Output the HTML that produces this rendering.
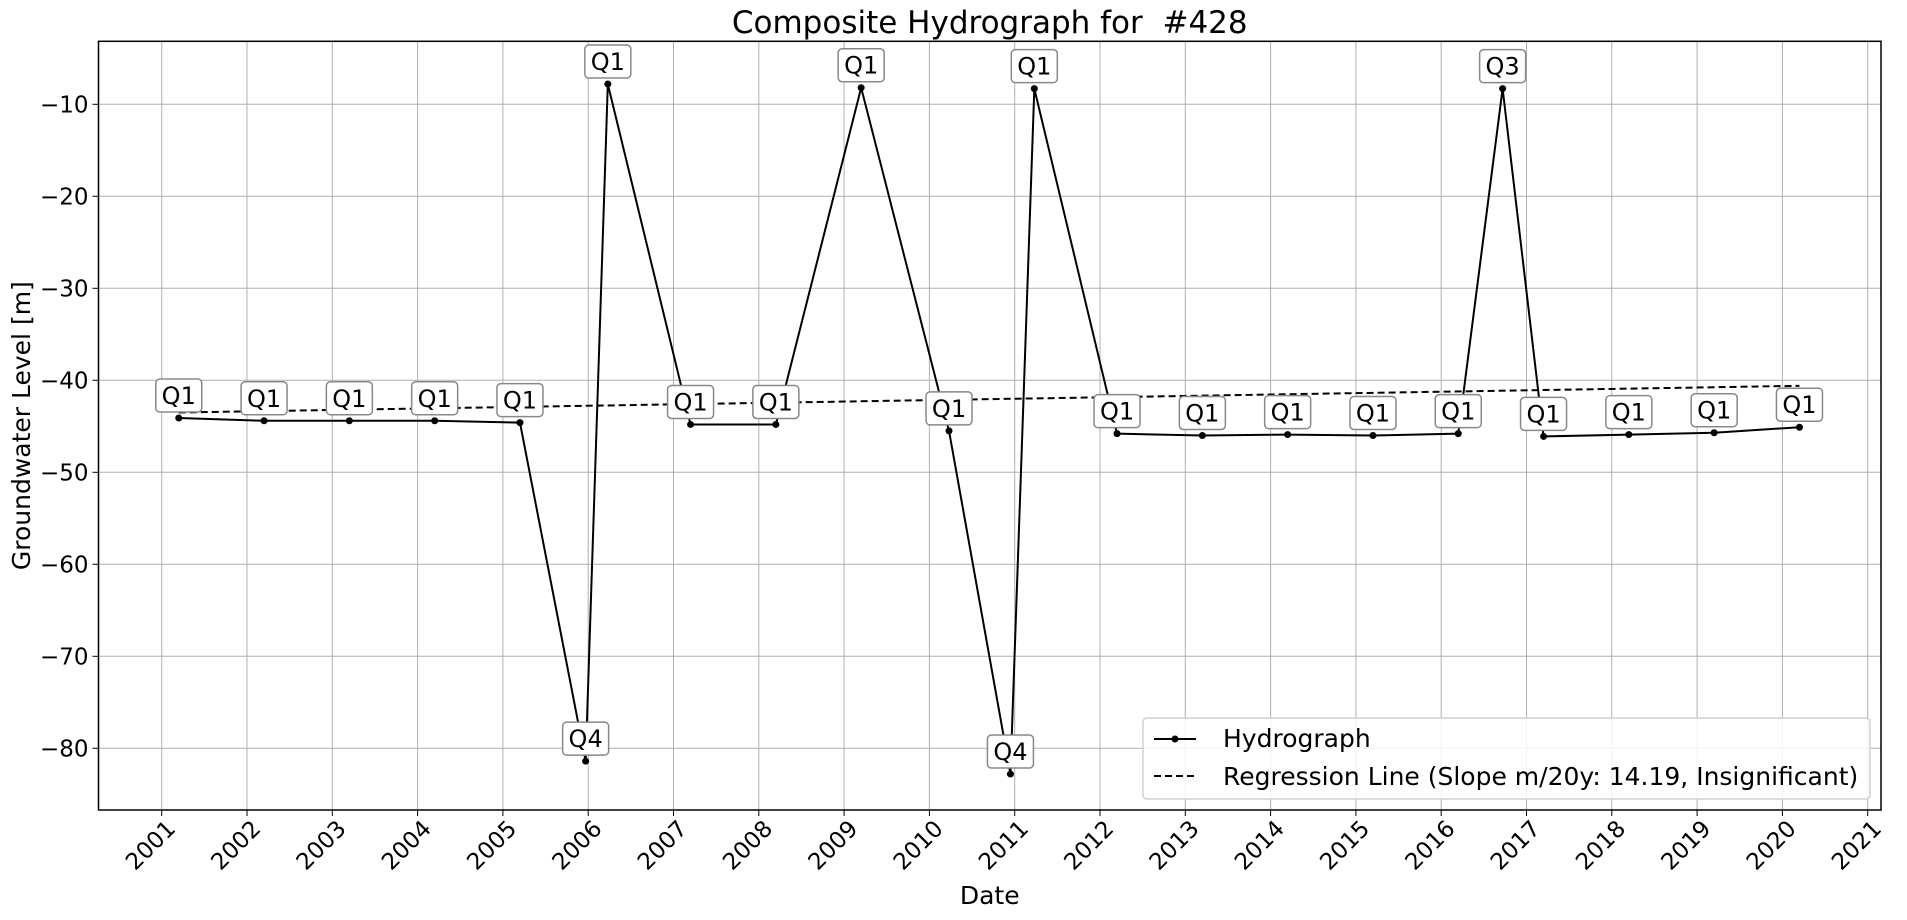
<!DOCTYPE html>
<html><head><meta charset="utf-8"><style>body{margin:0;background:#fff}svg{display:block;font-family:"DejaVu Sans","Liberation Sans",sans-serif}</style></head>
<body>
<svg id="chart" width="1907" height="920"></svg>
<script>
const dates=[2001.2,2002.2,2003.2,2004.2,2005.2,2005.97,2006.23,2007.2,2008.2,2009.2,2010.23,2010.95,2011.23,2012.2,2013.2,2014.2,2015.2,2016.2,2016.72,2017.2,2018.2,2019.2,2020.2];
const levels=[-44.1,-44.4,-44.4,-44.4,-44.6,-81.4,-7.8,-44.8,-44.8,-8.2,-45.5,-82.8,-8.3,-45.8,-46.0,-45.9,-46.0,-45.8,-8.3,-46.1,-45.9,-45.7,-45.1];
const quarters=["Q1","Q1","Q1","Q1","Q1","Q4","Q1","Q1","Q1","Q1","Q1","Q4","Q1","Q1","Q1","Q1","Q1","Q1","Q3","Q1","Q1","Q1","Q1"];
const regX=[2001.2,2020.2];
const regY=[-43.5,-40.6];
const yTicks=[-10,-20,-30,-40,-50,-60,-70,-80];
const xTicks=[2001,2002,2003,2004,2005,2006,2007,2008,2009,2010,2011,2012,2013,2014,2015,2016,2017,2018,2019,2020,2021];

const NS="http://www.w3.org/2000/svg";
const svg=document.getElementById('chart');
const L=98.5,R=1881,T=41.3,B=810;
const x=v=>161.7+(v-2001)*85.3;
const y=v=>104.3-(v+10)*9.2;
function mk(tag,attrs,parent){const e=document.createElementNS(NS,tag);for(const k in attrs)e.setAttribute(k,attrs[k]);(parent||svg).appendChild(e);return e;}

const grid=mk('g',{});


xTicks.forEach(t=>{mk('line',{x1:x(t),x2:x(t),y1:T,y2:B,stroke:'#b0b0b0','stroke-width':1},grid);
 mk('line',{x1:x(t),x2:x(t),y1:B,y2:B+6,stroke:'#000','stroke-width':1},grid);
 const tx=mk('text',{x:x(t)+15,y:B+20,'font-size':23,'text-anchor':'end',transform:`rotate(-45 ${x(t)+15} ${B+20})`});
 tx.textContent=t;
 
 });
yTicks.forEach(t=>{mk('line',{x1:L,x2:R,y1:y(t),y2:y(t),stroke:'#b0b0b0','stroke-width':1},grid);
 mk('line',{x1:L-6,x2:L,y1:y(t),y2:y(t),stroke:'#000','stroke-width':1},grid);
 const tx=mk('text',{x:L-10,y:y(t)+8,'font-size':23,'text-anchor':'end'});
 tx.textContent='\u2212'+Math.abs(t);
 
 });

const reg=mk('line',{x1:x(regX[0]),y1:y(regY[0]),x2:x(regX[1]),y2:y(regY[1]),stroke:'#000','stroke-width':2,'stroke-dasharray':'7,4'});



const line=mk('polyline',{points:dates.map((d,i)=>x(d)+','+y(levels[i])).join(' '),fill:'none',stroke:'#000','stroke-width':2});



dates.forEach((d,i)=>{
 const c=mk('circle',{cx:x(d),cy:y(levels[i]),r:3.5,fill:'#000'});
 
 
 const g=mk('g',{});
 
 
 const cx=x(d),cy=y(levels[i])-22;
 mk('rect',{x:cx-23,y:cy-17,width:46,height:33,rx:4,fill:'#fff',stroke:'#888','stroke-width':1.5},g);
 const t=mk('text',{x:cx,y:cy+8,'font-size':24,'text-anchor':'middle'},g);
 t.textContent=quarters[i];
});

const frame=mk('rect',{x:L,y:T,width:R-L,height:B-T,fill:'none',stroke:'#000','stroke-width':1.5});



const title=mk('text',{x:(L+R)/2,y:33,'font-size':31,'text-anchor':'middle',style:'white-space:pre'});
title.textContent='Composite Hydrograph for  #428';


const xl=mk('text',{x:(L+R)/2,y:904,'font-size':25,'text-anchor':'middle'});
xl.textContent='Date';


const yl=mk('text',{x:30,y:(T+B)/2,'font-size':25,'text-anchor':'middle',transform:`rotate(-90 30 ${(T+B)/2})`});
yl.textContent='Groundwater Level [m]';



const lg=mk('g',{});


mk('rect',{x:1143,y:718,width:727,height:81,rx:4,fill:'#fff','fill-opacity':0.85,stroke:'#d0d0d0','stroke-width':1.5},lg);
mk('line',{x1:1154,x2:1196,y1:739,y2:739,stroke:'#000','stroke-width':2},lg);
mk('circle',{cx:1175,cy:739,r:3.5,fill:'#000'},lg);
const l1=mk('text',{x:1223,y:747,'font-size':25},lg);l1.textContent='Hydrograph';
mk('line',{x1:1154,x2:1196,y1:776,y2:776,stroke:'#000','stroke-width':2,'stroke-dasharray':'7,4'},lg);
const l2=mk('text',{x:1223,y:785,'font-size':25},lg);l2.textContent='Regression Line (Slope m/20y: 14.19, Insignificant)';
</script>
</body></html>
